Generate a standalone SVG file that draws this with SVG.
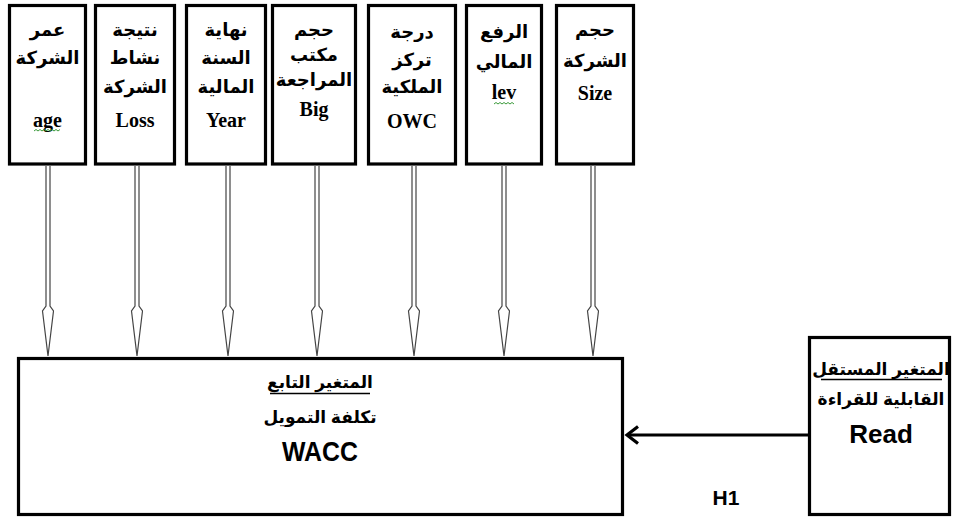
<svg xmlns="http://www.w3.org/2000/svg" width="953" height="519" viewBox="0 0 953 519">
<style>
.box{fill:#fff;stroke:#000;stroke-width:3.2}
.ar{font-family:"Liberation Serif","DejaVu Sans",serif;font-weight:bold;font-size:18px;text-anchor:middle;fill:#000}
.la{font-family:"Liberation Serif",serif;font-weight:bold;font-size:20px;text-anchor:middle;fill:#000}
.ar2{font-family:"Liberation Sans","DejaVu Sans",sans-serif;font-weight:bold;font-size:17px;text-anchor:middle;fill:#000}
.sa{font-family:"Liberation Sans",sans-serif;font-weight:bold;text-anchor:middle;fill:#000}
.harrow{fill:#fff;stroke:#444;stroke-width:1.2}
.squig{fill:none;stroke:#3a9a3a;stroke-width:1}
</style>
<rect width="953" height="519" fill="#fff"/>
<g id="node-age"><rect class="box" x="9.5" y="5.5" width="76" height="158.5"/>
<text class="ar" x="47.5" y="36">عمر</text><text class="ar" x="47.5" y="64">الشركة</text><text class="la" x="47.5" y="127">age</text>
<path class="squig" d="M34 131 l2 -1.5 l2 1.5 l2 -1.5 l2 1.5 l2 -1.5 l2 1.5 l2 -1.5 l2 1.5 l2 -1.5 l2 1.5 l2 -1.5 l2 1.5 l2 -1.5"/></g>
<g id="node-loss"><rect class="box" x="95.5" y="5.5" width="79" height="158.5"/>
<text class="ar" x="135" y="36">نتيجة</text><text class="ar" x="135" y="64">نشاط</text><text class="ar" x="135" y="93">الشركة</text><text class="la" x="135" y="127">Loss</text></g>
<g id="node-year"><rect class="box" x="186.5" y="5.5" width="79" height="158.5"/>
<text class="ar" x="226" y="36">نهاية</text><text class="ar" x="226" y="64">السنة</text><text class="ar" x="226" y="93">المالية</text><text class="la" x="226" y="127">Year</text></g>
<g id="node-big"><rect class="box" x="272.5" y="5.5" width="83" height="158.5"/>
<text class="ar" x="314" y="36">حجم</text><text class="ar" x="314" y="61">مكتب</text><text class="ar" x="314" y="86">المراجعة</text><text class="la" x="314" y="116">Big</text></g>
<g id="node-owc"><rect class="box" x="368.5" y="5.5" width="87" height="158.5"/>
<text class="ar" x="412" y="38">درجة</text><text class="ar" x="412" y="66">تركز</text><text class="ar" x="412" y="93">الملكية</text><text class="la" x="412" y="128">OWC</text></g>
<g id="node-lev"><rect class="box" x="466.5" y="5.5" width="75" height="158.5"/>
<text class="ar" x="504" y="38">الرفع</text><text class="ar" x="504" y="68">المالي</text><text class="la" x="504" y="99">lev</text>
<path class="squig" d="M494 104 l2 -1.5 l2 1.5 l2 -1.5 l2 1.5 l2 -1.5 l2 1.5 l2 -1.5 l2 1.5 l2 -1.5 l2 1.5"/></g>
<g id="node-size"><rect class="box" x="556.5" y="5.5" width="77" height="158.5"/>
<text class="ar" x="595" y="36">حجم</text><text class="ar" x="595" y="67">الشركة</text><text class="la" x="595" y="100">Size</text></g>
<g id="node-wacc"><rect class="box" x="18.5" y="358.5" width="604" height="156"/>
<text class="ar2" x="320" y="388">المتغير التابع</text>
<line x1="270" y1="393.5" x2="370" y2="393.5" stroke="#000" stroke-width="1.5"/>
<text class="ar2" x="320" y="423">تكلفة التمويل</text>
<text class="sa" x="320" y="461" font-size="27" textLength="76" lengthAdjust="spacingAndGlyphs">WACC</text></g>
<g id="node-read"><rect class="box" x="809.5" y="337.5" width="140" height="177"/>
<text class="ar2" x="881" y="375" font-size="16">المتغير المستقل</text>
<line x1="821" y1="379.5" x2="942" y2="379.5" stroke="#000" stroke-width="1.5"/>
<text class="ar2" x="881" y="405" font-size="16">القابلية للقراءة</text>
<text class="sa" x="881" y="443" font-size="26">Read</text></g>
<g id="connectors">
<path class="harrow" d="M46 166 V306 L42.5 311 L48 356 L53.5 311 L50 306 V166"/>
<path class="harrow" d="M135 166 V306 L131.5 311 L137 356 L142.5 311 L139 306 V166"/>
<path class="harrow" d="M226 166 V306 L222.5 311 L228 356 L233.5 311 L230 306 V166"/>
<path class="harrow" d="M315 166 V306 L311.5 311 L317 356 L322.5 311 L319 306 V166"/>
<path class="harrow" d="M412 166 V306 L408.5 311 L414 356 L419.5 311 L416 306 V166"/>
<path class="harrow" d="M502 166 V306 L498.5 311 L504 356 L509.5 311 L506 306 V166"/>
<path class="harrow" d="M591 166 V306 L587.5 311 L593 356 L598.5 311 L595 306 V166"/>
<line x1="808" y1="435" x2="627" y2="435" stroke="#000" stroke-width="3.2"/>
<polyline points="638,426.5 627,435 638,443.5" fill="none" stroke="#000" stroke-width="3.2"/>
<text class="sa" x="726" y="505" font-size="21">H1</text>
</g>
</svg>
